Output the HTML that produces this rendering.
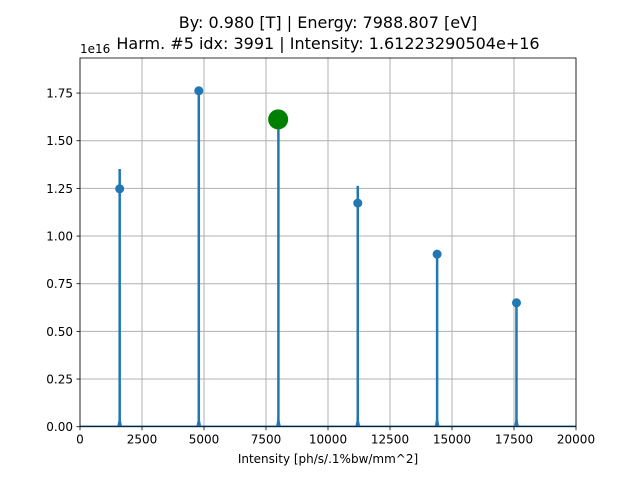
<!DOCTYPE html>
<html><head><meta charset="utf-8"><style>
body{margin:0;background:#fff;font-family:"Liberation Sans","DejaVu Sans",sans-serif}
svg text{font-family:"DejaVu Sans","Liberation Sans",sans-serif;fill:#000}
</style></head><body>
<svg id="c" width="640" height="480" xmlns="http://www.w3.org/2000/svg">
<text x="328" y="28" font-size="16" text-anchor="middle">By: 0.980 [T] | Energy: 7988.807 [eV]</text>
<text x="328" y="49" font-size="16" text-anchor="middle">Harm. #5 idx: 3991 | Intensity: 1.61223290504e+16</text>
<g id="grid"></g><g id="marks"></g><g id="axes"></g>
</svg>
<script>
const xTicks=[0,2500,5000,7500,10000,12500,15000,17500,20000];
const xTickLabels=["0","2500","5000","7500","10000","12500","15000","17500","20000"];
const yTicks=[0,0.25,0.5,0.75,1.0,1.25,1.5,1.75];
const yTickLabels=["0.00","0.25","0.50","0.75","1.00","1.25","1.50","1.75"];
const peakX=[1600,4790,8000,11200,14400,17600];
const spikeTop=[1.352,1.762,1.612,1.263,0.905,0.65];
const dotY=[1.248,1.762,null,1.173,0.905,0.65];
const selX=[7990];
const selY=[1.612];
const L=80,R=576,T=58,B=426.7,xMax=20000,yMax=1.934;
const sx=v=>L+(v/xMax)*(R-L);
const sy=v=>B-(v/yMax)*(B-T);
const NS="http://www.w3.org/2000/svg";
function mk(tag,attrs,parent){const e=document.createElementNS(NS,tag);for(const k in attrs)e.setAttribute(k,attrs[k]);document.getElementById(parent).appendChild(e);return e;}
xTicks.forEach((t,i)=>{
 const g=mk('line',{x1:sx(t),x2:sx(t),y1:T,y2:B,stroke:'#b0b0b0','stroke-width':1},'grid');
 
 
 const tk=mk('line',{x1:sx(t),x2:sx(t),y1:B,y2:B+3.5,stroke:'#000','stroke-width':0.8},'axes');
 
 
 const tx=mk('text',{x:sx(t),y:B+17,'font-size':12,'text-anchor':'middle'},'axes');
 tx.textContent=xTickLabels[i];
 
 
});
yTicks.forEach((t,i)=>{
 const g=mk('line',{x1:L,x2:R,y1:sy(t),y2:sy(t),stroke:'#b0b0b0','stroke-width':1},'grid');
 
 
 const tk=mk('line',{x1:L-3.5,x2:L,y1:sy(t),y2:sy(t),stroke:'#000','stroke-width':0.8},'axes');
 
 
 const tx=mk('text',{x:L-7,y:sy(t)+4.5,'font-size':12,'text-anchor':'end'},'axes');
 tx.textContent=yTickLabels[i];
 
 
});
const base=mk('line',{x1:L,x2:R,y1:B-0.5,y2:B-0.5,stroke:'#1f77b4','stroke-width':1.5},'marks');


peakX.forEach((p,i)=>{
 const l=mk('line',{x1:sx(p),x2:sx(p),y1:B,y2:sy(spikeTop[i]),stroke:'#1f77b4','stroke-width':2.5},'marks');
 
 
 const f=mk('path',{d:`M${sx(p)-2.5},${B} L${sx(p)},${B-12} L${sx(p)+2.5},${B} Z`,fill:'#1f77b4'},'marks');
 
 
 if(dotY[i]!==null){
  const c=mk('circle',{cx:sx(p),cy:sy(dotY[i]),r:4.5,fill:'#1f77b4'},'marks');
  
  
 }
});
selX.forEach((p,i)=>{
 const c=mk('circle',{cx:sx(p),cy:sy(selY[i]),r:10,fill:'#008000'},'marks');
 
 
});
const fr=mk('rect',{x:L,y:T,width:R-L,height:B-T,fill:'none',stroke:'#000','stroke-width':0.8},'axes');


const off=mk('text',{x:L,y:T-5,'font-size':12},'axes');
off.textContent='1e16';


const xl=mk('text',{x:(L+R)/2,y:463,'font-size':12,'text-anchor':'middle'},'axes');
xl.textContent='Intensity [ph/s/.1%bw/mm^2]';


</script>
</body></html>
